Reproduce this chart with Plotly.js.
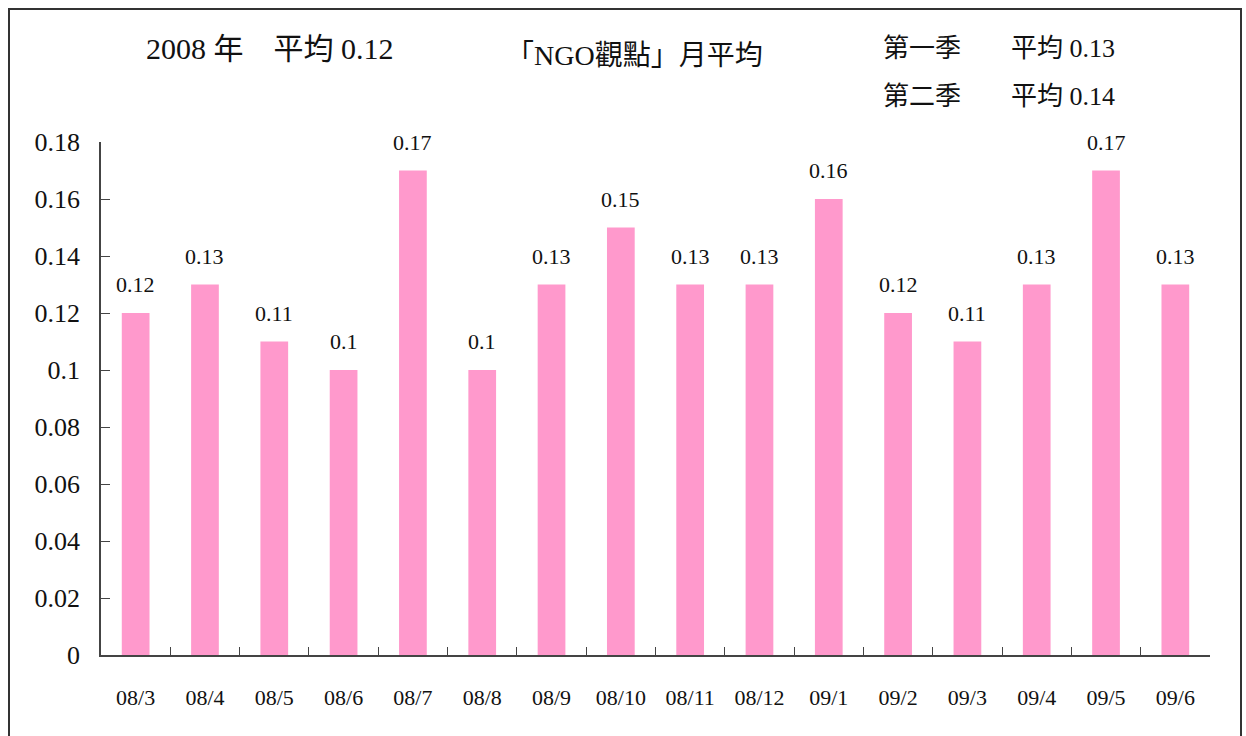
<!DOCTYPE html>
<html lang="zh-Hant">
<head>
    <meta charset="UTF-8">
    <title>「NGO觀點」月平均</title>
    <script src="https://cdn.plot.ly/plotly-3.0.1.min.js"></script>
    <style>
        body { margin: 0; background: #fff; }
        #frame {
            position: absolute; left: 8px; top: 8px;
            width: 1234px; height: 740px;
            border: 2px solid #333; box-sizing: border-box;
            pointer-events: none; z-index: 5;
        }
        #chart { position: absolute; left: 0; top: 0; width: 1246px; height: 736px; }
    </style>
</head>
<body>
    <div id="chart"></div>
    <div id="frame"></div>
    <script>
        // 月份與月平均值
        const months = ['08/3', '08/4', '08/5', '08/6', '08/7', '08/8', '08/9', '08/10',
                        '08/11', '08/12', '09/1', '09/2', '09/3', '09/4', '09/5', '09/6'];
        const values = [0.12, 0.13, 0.11, 0.1, 0.17, 0.1, 0.13, 0.15,
                        0.13, 0.13, 0.16, 0.12, 0.11, 0.13, 0.17, 0.13];
        const yTicks = [0, 0.02, 0.04, 0.06, 0.08, 0.1, 0.12, 0.14, 0.16, 0.18];

        const font = 'Liberation Serif, Noto Sans CJK TC, serif';

        const trace = {
            x: months,
            y: values,
            type: 'bar',
            marker: { color: '#FF99CC' },
            hoverinfo: 'x+y'
        };

        // 數值標籤放在長條上方
        const valueLabels = months.map((m, i) => ({
            x: m, y: values[i], xref: 'x', yref: 'y',
            text: String(values[i]),
            showarrow: false,
            xanchor: 'center', yanchor: 'bottom',
            yshift: 14,
            font: { family: font, size: 22, color: '#111' }
        }));

        const layout = {
            width: 1246,
            height: 736,
            margin: { l: 101, r: 36, t: 142, b: 81 },
            paper_bgcolor: '#fff',
            plot_bgcolor: '#fff',
            showlegend: false,
            bargap: 0.6,
            font: { family: font, color: '#111' },
            xaxis: {
                type: 'category',
                showline: true,
                linecolor: '#444',
                linewidth: 1.5,
                ticks: 'inside',
                tickson: 'boundaries',
                ticklen: 8,
                tickcolor: '#444',
                ticklabelstandoff: 22,
                tickfont: { family: font, size: 22, color: '#111' },
                showgrid: false
            },
            yaxis: {
                range: [0, 0.18],
                tickvals: yTicks,
                ticktext: yTicks.map(String),
                showline: true,
                linecolor: '#444',
                linewidth: 1.5,
                ticks: 'inside',
                ticklen: 9,
                tickcolor: '#444',
                ticklabelstandoff: 14,
                tickfont: { family: font, size: 26, color: '#111' },
                showgrid: false,
                zeroline: false
            },
            annotations: [
                { text: '2008 年　平均 0.12', x: 270, y: 48, size: 30 },
                { text: '「NGO觀點」月平均', x: 634, y: 55, size: 28 },
                { text: '第一季', x: 922, y: 48, size: 26 },
                { text: '平均 0.13', x: 1063, y: 48, size: 26 },
                { text: '第二季', x: 922, y: 97, size: 26 },
                { text: '平均 0.14', x: 1063, y: 97, size: 26 }
            ].map(a => ({
                text: a.text,
                xref: 'paper', yref: 'paper',
                x: (a.x - 101) / (1246 - 101 - 36),
                y: 1 + (142 - a.y) / (736 - 142 - 81),
                showarrow: false,
                xanchor: 'center', yanchor: 'middle',
                font: { family: font, size: a.size, color: '#111' }
            })).concat(valueLabels)
        };

        Plotly.newPlot('chart', [trace], layout, { displayModeBar: false });
    </script>
</body>
</html>
